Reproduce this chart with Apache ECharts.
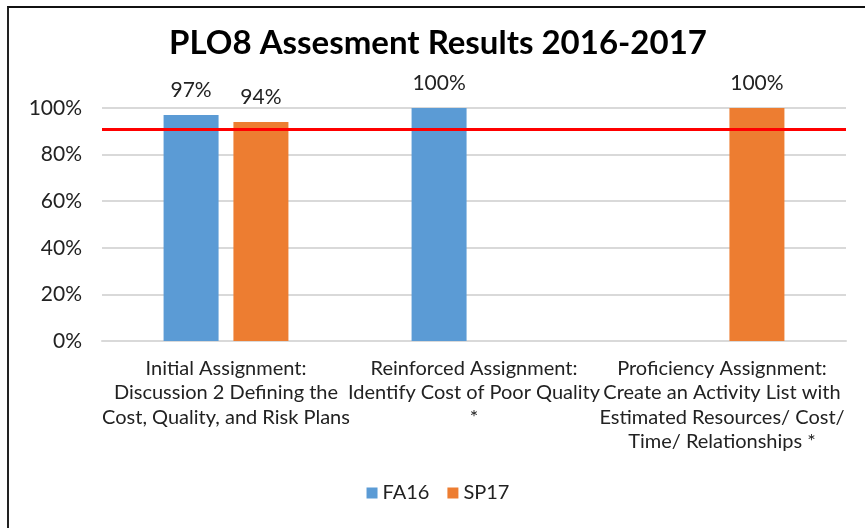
<!DOCTYPE html>
<html>
<head>
<meta charset="utf-8">
<script src="https://cdn.jsdelivr.net/npm/echarts@6/dist/echarts.min.js"></script>
<style>
  html, body { margin: 0; padding: 0; background: #fff; }
  #frame {
    position: absolute; left: 7px; top: 6px; width: 858px; height: 522px;
    border-top: 2px solid #111; border-left: 2px solid #222;
  }
  #chart { width: 858px; height: 522px; }
</style>
</head>
<body>
<div id="frame"><div id="chart"></div></div>
<script>
const categories = [
  'Initial Assignment:\nDiscussion 2 Defining the\nCost, Quality, and Risk Plans',
  'Reinforced Assignment:\nIdentify Cost of Poor Quality\n*',
  'Proficiency Assignment:\nCreate an Activity List with\nEstimated Resources/ Cost/\nTime/ Relationships *'
]
const fa16 = [97, 100, null]
const sp17 = [94, null, 100]
const target = 91
const yTicks = [0, 20, 40, 60, 80, 100]

const font = 'Lato, "Open Sans", sans-serif'
const chart = echarts.init(document.getElementById('chart'))

const labelStyle = {
  show: true,
  position: 'top',
  distance: 14,
  formatter: p => p.value + '%',
  color: '#222',
  fontSize: 21,
  fontFamily: font
}

chart.setOption({
  animation: false,
  title: {
    text: 'PLO8 Assesment Results 2016-2017',
    left: 'center',
    top: 14,
    textStyle: { fontSize: 33, fontWeight: 'bold', color: '#000', fontFamily: font }
  },
  legend: {
    data: ['FA16', 'SP17'],
    bottom: 22,
    left: 'center',
    itemWidth: 11,
    itemHeight: 11,
    itemGap: 18,
    icon: 'rect',
    textStyle: { fontSize: 20, color: '#222', fontFamily: font }
  },
  grid: { left: 93, right: 21, top: 100, bottom: 189 },
  xAxis: {
    type: 'category',
    data: categories,
    axisLine: { lineStyle: { color: '#d9d9d9', width: 2 } },
    axisTick: { show: false },
    axisLabel: {
      interval: 0,
      margin: 15,
      fontSize: 20,
      lineHeight: 24.5,
      color: '#222',
      fontFamily: font
    }
  },
  yAxis: {
    type: 'value',
    min: yTicks[0],
    max: yTicks[yTicks.length - 1],
    interval: 20,
    axisLine: { show: false },
    axisTick: { show: false },
    splitLine: { lineStyle: { color: '#d9d9d9', width: 2 } },
    axisLabel: {
      formatter: '{value}%',
      margin: 20,
      fontSize: 21,
      color: '#222',
      fontFamily: font
    }
  },
  series: [
    {
      name: 'FA16',
      type: 'bar',
      data: fa16,
      barWidth: 55,
      barGap: '27%',
      itemStyle: { color: '#5b9bd5' },
      label: labelStyle,
      markLine: {
        silent: true,
        symbol: 'none',
        label: { show: false },
        lineStyle: { color: '#ff0000', width: 3, type: 'solid' },
        data: [{ yAxis: target }]
      }
    },
    {
      name: 'SP17',
      type: 'bar',
      data: sp17,
      barWidth: 55,
      itemStyle: { color: '#ed7d31' },
      label: labelStyle
    }
  ]
})
</script>
</body>
</html>
